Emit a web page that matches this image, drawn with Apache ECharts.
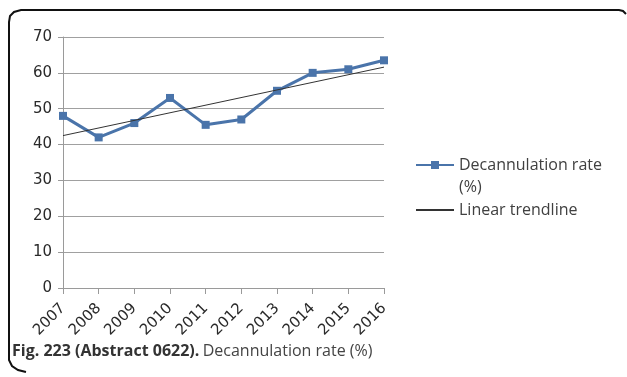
<!DOCTYPE html>
<html>
<head>
<meta charset="utf-8">
<script src="https://cdn.jsdelivr.net/npm/echarts@6/dist/echarts.min.js"></script>
<style>html,body{margin:0;padding:0;background:#fff;}#c{width:627px;height:377px;}</style>
</head>
<body>
<div id="c"></div>
<script>
const years = ['2007','2008','2009','2010','2011','2012','2013','2014','2015','2016'];
const decannulationRate = [48, 42, 46, 53, 45.5, 47, 55, 60, 61, 63.5];
const trendStartEnd = [42.5, 61.6];
const yTicks = [0, 10, 20, 30, 40, 50, 60, 70];
const seriesNames = ['Decannulation rate (%)', 'Linear trendline'];

const trend = years.map((y, i) => i === 0 ? trendStartEnd[0] : (i === years.length - 1 ? trendStartEnd[1] : null));

const chart = echarts.init(document.getElementById('c'));
chart.setOption({
  animation: false,
  backgroundColor: '#fff',
  textStyle: { fontFamily: 'Open Sans' },
  grid: { left: 63, right: 243, top: 37, bottom: 89, containLabel: false },
  xAxis: {
    type: 'category', data: years, boundaryGap: false,
    axisLine: { lineStyle: { color: '#9a9a9a', width: 1 } },
    axisTick: { show: true, length: 6, lineStyle: { color: '#9a9a9a' } },
    axisLabel: { rotate: 45, color: '#2a2a2a', fontSize: 15, margin: 18, fontFamily: 'DejaVu Sans' },
    splitLine: { show: false }
  },
  yAxis: {
    type: 'value', min: yTicks[0], max: yTicks[yTicks.length - 1], interval: 10,
    axisLine: { show: true, lineStyle: { color: '#9a9a9a', width: 1 } },
    axisTick: { show: true, length: 5, lineStyle: { color: '#9a9a9a' } },
    axisLabel: { color: '#2a2a2a', fontSize: 15, margin: 11, fontFamily: 'DejaVu Sans' },
    splitLine: { lineStyle: { color: '#a0a0a0', width: 1 } }
  },
  legend: {
    orient: 'vertical', left: 410, top: 130, itemWidth: 38, itemHeight: 10, itemGap: 7,
    textStyle: {
      color: '#404040', fontFamily: 'Open Sans',
      rich: {
        s: { fontSize: 16, lineHeight: 22, fontFamily: 'Open Sans' },
        t: { fontSize: 16, lineHeight: 22, color: '#404040', fontFamily: 'Open Sans' }
      }
    },
    formatter: function (name) {
      if (name === seriesNames[0]) return '{s| }\n{t|Decannulation rate}\n{t|(%)}';
      return '{t|' + name + '}';
    },
    data: [
      { name: seriesNames[0] },
      { name: seriesNames[1], itemStyle: { color: 'rgba(0,0,0,0)', borderColor: 'rgba(0,0,0,0)', borderWidth: 0 } }
    ]
  },
  series: [
    {
      name: seriesNames[0], type: 'line', data: decannulationRate,
      symbol: 'rect', symbolSize: 8,
      lineStyle: { color: '#4a74aa', width: 3 },
      itemStyle: { color: '#4a74aa' },
      z: 3
    },
    {
      name: seriesNames[1], type: 'line', data: trend, connectNulls: true,
      symbol: 'none',
      lineStyle: { color: '#333', width: 1 },
      itemStyle: { color: '#555' },
      z: 4
    }
  ],
  graphic: [
    {
      type: 'polyline', silent: true,
      shape: { points: [[26,372],[18,370],[12,366],[9,360],[9,22],[10,16],[14,12],[21,10],[619,10],[623,11],[626,14]] },
      style: { fill: null, stroke: '#111', lineWidth: 2 }
    },
    {
      type: 'text', left: 12, top: 343,
      style: {
        text: '{b|Fig. 223 (Abstract 0622).} {n|Decannulation rate (%)}',
        rich: {
          b: { fontSize: 16, fontWeight: 'bold', fill: '#333', fontFamily: 'Open Sans' },
          n: { fontSize: 16, fill: '#444', fontFamily: 'Open Sans' }
        }
      }
    }
  ]
});
</script>
</body>
</html>
